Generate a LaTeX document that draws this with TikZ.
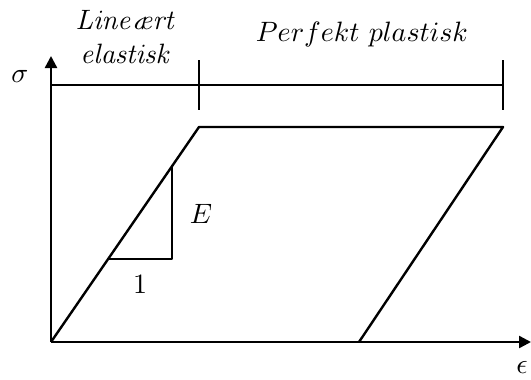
\documentclass[tikz,border=0pt]{standalone}
\usetikzlibrary{arrows.meta}
\begin{document}
\begin{tikzpicture}[x=0.75pt,y=-0.75pt,
  ln/.style={line width=1.8pt},
  axis/.style={line width=1.8pt,-{Triangle[length=9pt,width=9pt]}},
  lbl/.style={scale=2.1, inner sep=0pt}]
\useasboundingbox (0,0) rectangle (531,379);
% coordinates
\coordinate (O) at (51,342);
\coordinate (Ytop) at (51,56);
\coordinate (Xend) at (531,342);
\coordinate (A) at (199,127);
\coordinate (B) at (503,127);
\coordinate (C) at (359,342);
\coordinate (H0) at (51,85);
\coordinate (H1) at (503,85);
\coordinate (T1a) at (199,60);
\coordinate (T1b) at (199,110);
\coordinate (T2a) at (503,60);
\coordinate (T2b) at (503,110);
\coordinate (Ptop) at (172,167);
\coordinate (Pc) at (172,259);
\coordinate (Pl) at (108,259);
% axes
\draw[axis] (O) -- (Ytop);
\draw[axis] (O) -- (Xend);
% range bar
\draw[ln] (H0) -- (H1);
\draw[ln] (T1a) -- (T1b);
\draw[ln] (T2a) -- (T2b);
% parallelogram
\draw[ln, line join=round] (O) -- (A) -- (B) -- (C);
% slope triangle
\draw[ln, line join=round] (Ptop) -- (Pc) -- (Pl);
% labels
\node[lbl] (sig) at (20,76) {$\sigma$};
\node[lbl] (eps) at (522,367) {$\epsilon$};
\node[lbl] (E) at (201,214) {$E$};
\node[lbl] (one) at (140,284) {$1$};
\node[lbl, align=center] (lin) at (126,37) {$\mathit{Line}$\textit{æ}$\mathit{rt}$\\[0pt]$\mathit{elastisk}$};
\node[lbl] (pp) at (362,34) {$Perfekt\ plastisk$};
\end{tikzpicture}
\end{document}
